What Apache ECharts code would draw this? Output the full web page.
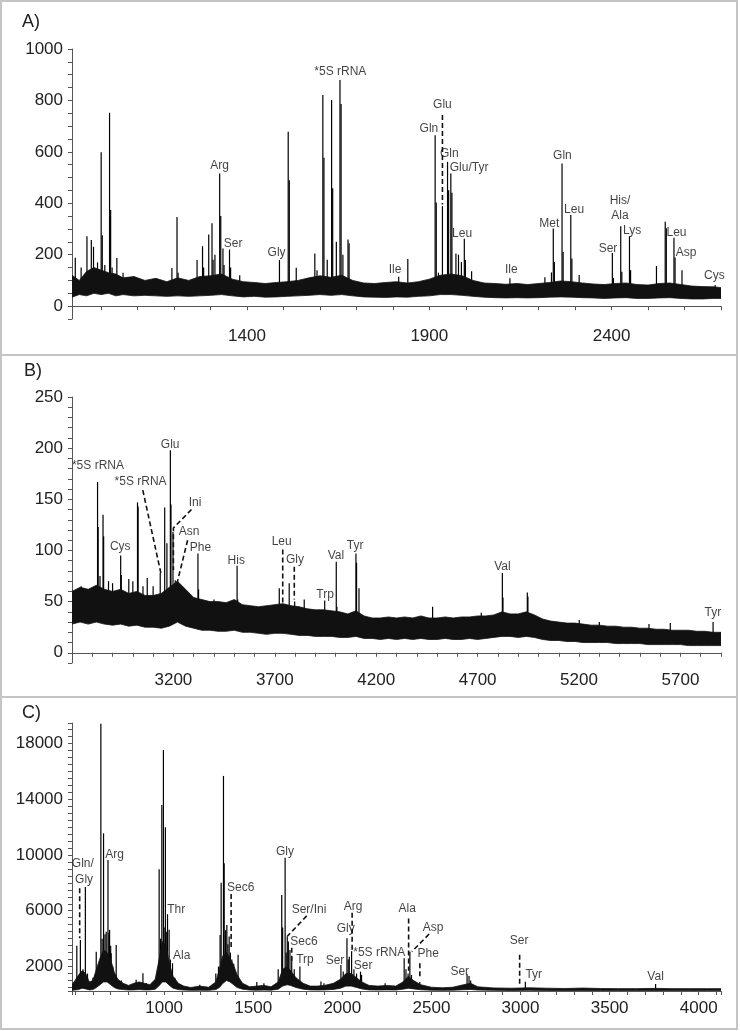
<!DOCTYPE html>
<html><head><meta charset="utf-8">
<script src="https://cdn.jsdelivr.net/npm/echarts@6/dist/echarts.min.js"></script>
<style>html,body{margin:0;padding:0;background:#fff}#c{width:740px;height:1031px}</style>
</head><body><div id="c"></div>
<script>
// ---------- Panel A ----------
const peaksA = [[929,188],[945,150],[961,272],[973,257],[979,231],[990,170],[1000,598],[1003,276],[1010,160],[1023,752],[1026,374],[1030,150],[1043,187],[1060,130],[1194,148],[1208,347],[1211,130],[1263,179],[1278,233],[1281,150],[1295,279],[1304,322],[1307,180],[1312,200],[1325,516],[1328,351],[1334,224],[1337,160],[1352,220],[1355,150],[1380,120],[1489,179],[1513,678],[1516,490],[1535,149],[1586,205],[1592,140],[1608,821],[1611,577],[1620,180],[1632,802],[1635,458],[1645,250],[1655,879],[1658,786],[1663,200],[1677,259],[1680,245],[1816,114],[1841,183],[1916,665],[1919,403],[1925,130],[1936,389],[1950,561],[1953,451],[1959,516],[1962,441],[1973,205],[1980,200],[1988,172],[1996,262],[1999,180],[2016,136],[2121,108],[2217,112],[2235,131],[2240,302],[2243,172],[2264,555],[2267,211],[2288,354],[2291,185],[2311,121],[2402,207],[2405,110],[2425,311],[2428,134],[2449,272],[2452,140],[2523,156],[2547,328],[2550,303],[2571,266],[2574,189],[2593,140],[2684,82]];
const envA = [[920,35,120],[940,45,100],[960,40,135],[980,50,150],[1000,45,140],[1020,50,130],[1040,40,125],[1060,45,110],[1090,40,115],[1120,42,100],[1150,40,108],[1180,38,95],[1210,40,110],[1240,38,100],[1270,40,115],[1300,42,118],[1330,45,125],[1360,40,105],[1390,36,95],[1420,38,92],[1450,35,88],[1480,36,92],[1510,38,95],[1540,40,100],[1570,42,110],[1600,45,118],[1630,42,112],[1660,45,120],[1690,40,100],[1720,36,90],[1750,35,88],[1780,34,92],[1810,36,95],[1840,35,90],[1870,38,95],[1900,40,105],[1930,45,120],[1960,45,125],[1990,42,118],[2020,38,100],[2050,35,90],[2080,33,88],[2110,32,85],[2140,33,88],[2170,32,84],[2200,33,88],[2230,35,92],[2260,36,98],[2290,35,95],[2320,33,90],[2350,32,86],[2380,30,84],[2410,32,88],[2440,33,90],[2470,30,84],[2500,30,82],[2530,32,88],[2560,33,90],[2590,30,84],[2620,28,78],[2650,28,76],[2680,30,75],[2700,30,72]];
const labelsA = [[1656,912,'*5S rRNA'],[1325,546,'Arg'],[1362,242,'Ser'],[1481,209,'Gly'],[1806,143,'Ile'],[1936,782,'Glu'],[1899,689,'Gln'],[1955,594,'Gln'],[2009,538,'Glu/Tyr'],[1990,283,'Leu'],[2125,143,'Ile'],[2229,322,'Met'],[2265,585,'Gln'],[2297,377,'Leu'],[2423,409,'His/'],[2423,350,'Ala'],[2456,293,'Lys'],[2390,224,'Ser'],[2578,285,'Leu'],[2604,209,'Asp'],[2682,118,'Cys']];
const leadersA = [[[1936,743],[1936,395]]];

// ---------- Panel B ----------
const peaksB = [[2720,58],[2745,65],[2760,60],[2790,62],[2826,167],[2829,123],[2838,75],[2853,135],[2856,114],[2880,70],[2900,68],[2940,95],[2943,76],[2980,72],[3000,70],[3023,147],[3026,143],[3050,65],[3071,73],[3100,65],[3135,78],[3157,142],[3168,107],[3185,198],[3188,145],[3198,118],[3209,71],[3215,68],[3230,62],[3321,97],[3324,62],[3400,52],[3514,85],[3517,52],[3600,45],[3722,63],[3771,68],[3798,50],[3845,52],[3946,51],[4003,89],[4006,45],[4100,97],[4103,88],[4115,63],[4478,45],[4718,39],[4822,78],[4825,54],[4945,59],[4948,55],[5201,32],[5300,30],[5545,28],[5650,29],[5861,30]];
const envB = [[2700,28,60],[2740,30,64],[2780,28,62],[2820,30,66],[2860,28,62],[2900,27,60],[2940,28,62],[2980,26,58],[3020,27,60],[3060,25,56],[3100,25,56],[3140,24,58],[3180,26,64],[3220,30,70],[3260,26,62],[3300,24,54],[3340,22,52],[3380,22,50],[3420,21,50],[3460,21,49],[3500,22,52],[3540,20,47],[3580,20,46],[3620,19,45],[3660,18,46],[3700,19,47],[3740,19,48],[3780,18,46],[3820,17,45],[3860,17,43],[3900,16,42],[3940,16,42],[3980,16,41],[4020,15,40],[4060,15,38],[4100,16,41],[4140,14,36],[4180,14,34],[4220,13,34],[4260,14,35],[4300,13,34],[4340,14,35],[4380,13,34],[4420,14,36],[4460,13,34],[4500,13,34],[4540,14,35],[4580,13,34],[4620,13,35],[4660,14,35],[4700,13,36],[4740,14,36],[4780,15,37],[4820,16,40],[4860,16,38],[4900,15,38],[4940,16,40],[4980,15,37],[5020,13,33],[5060,12,31],[5100,12,30],[5140,11,29],[5180,11,29],[5220,10,28],[5260,10,27],[5300,10,27],[5340,10,26],[5380,9,26],[5420,9,25],[5460,9,25],[5500,9,24],[5540,8,24],[5580,8,23],[5620,8,23],[5660,8,22],[5700,8,22],[5740,7,22],[5780,7,21],[5820,7,21],[5860,7,20],[5900,7,20]];
const labelsB = [[2828,183,'*5S rRNA'],[3038,167,'*5S rRNA'],[3184,203,'Glu'],[2938,104,'Cys'],[3307,147,'Ini'],[3277,118,'Asn'],[3333,103,'Phe'],[3510,90,'His'],[3734,109,'Leu'],[3799,91,'Gly'],[3948,57,'Trp'],[4001,95,'Val'],[4096,105,'Tyr'],[4822,84,'Val'],[5860,39,'Tyr']];
const leadersB = [[[3049,159],[3138,78]],[[3289,140],[3200,122],[3200,81]],[[3270,110],[3218,68]],[[3739,101],[3739,42]],[[3796,84],[3796,52]]];

// ---------- Panel C ----------
const peaksC = [[496,830],[510,3500],[530,3900],[545,1800],[558,7700],[570,1500],[600,1200],[619,3070],[632,2120],[645,19400],[652,4000],[660,11550],[668,4320],[675,4500],[685,9640],[690,4400],[694,4630],[700,3500],[703,2960],[712,2000],[731,3550],[760,1000],[843,1050],[860,900],[881,1520],[900,800],[960,1500],[972,8970],[980,4000],[987,13580],[996,17520],[1000,4800],[1007,11980],[1012,4500],[1019,5750],[1028,4630],[1035,2500],[1047,2240],[1060,1200],[1200,700],[1290,1500],[1305,2000],[1314,4270],[1320,8010],[1333,15660],[1337,9400],[1345,4600],[1352,4980],[1358,3600],[1365,4150],[1372,3000],[1380,2500],[1390,2200],[1415,2840],[1520,900],[1560,800],[1640,1800],[1660,7130],[1665,4800],[1679,9800],[1685,3000],[1691,4150],[1697,3790],[1706,3190],[1716,2710],[1730,1800],[1762,2000],[1880,925],[1897,810],[1992,2120],[2005,1640],[2026,4030],[2033,2500],[2039,2710],[2052,3100],[2065,1800],[2080,1500],[2102,1640],[2108,1400],[2240,800],[2347,2600],[2357,1800],[2369,1500],[2379,3070],[2388,1400],[2435,900],[2700,1450],[2711,1330],[2720,1000],[3027,920],[3758,760]];
const envC = [[483,300,700],[500,320,1000],[520,350,1400],[540,450,1700],[560,400,1500],[580,330,900],[600,350,1000],[620,500,1800],[640,700,2600],[660,900,3200],[680,900,3000],[700,700,2500],[720,500,1600],[740,400,1100],[770,350,800],[800,320,650],[830,330,800],[860,350,900],[890,330,800],[920,330,700],[950,380,1100],[970,600,2400],[990,900,3800],[1010,900,3500],[1030,650,2200],[1050,450,1300],[1080,350,800],[1110,320,600],[1150,300,500],[1200,310,600],[1250,300,520],[1290,350,900],[1310,500,1800],[1330,800,2800],[1350,1000,3000],[1370,900,2600],[1390,700,2100],[1410,500,1400],[1440,380,800],[1480,320,550],[1520,310,600],[1560,320,650],[1600,310,550],[1640,380,900],[1665,600,1800],[1690,700,2000],[1710,650,1700],[1740,500,1200],[1780,380,800],[1820,330,600],[1860,320,600],[1900,330,650],[1950,360,800],[1990,450,1100],[2020,600,1500],[2050,600,1500],[2080,500,1200],[2110,400,900],[2150,330,650],[2200,320,600],[2250,330,650],[2300,320,600],[2340,380,900],[2370,450,1300],[2400,400,1000],[2440,340,700],[2500,310,520],[2560,300,480],[2620,310,520],[2680,340,700],[2720,360,800],[2760,320,550],[2850,300,470],[2950,290,450],[3050,300,480],[3150,290,450],[3250,285,430],[3350,290,460],[3450,285,430],[3550,280,420],[3650,280,420],[3750,285,440],[3850,280,420],[3950,280,420],[4050,280,420],[4125,280,420]];
const labelsC = [[544,9400,'Gln/'],[551,8260,'Gly'],[722,10000,'Arg'],[1068,6110,'Thr'],[1099,2760,'Ala'],[1430,7660,'Sec6'],[1678,10230,'Gly'],[1813,6060,'Ser/Ini'],[1785,3790,'Sec6'],[1790,2480,'Trp'],[1959,2430,'Ser'],[2061,6300,'Arg'],[2019,4680,'Gly'],[2207,3000,'*5S rRNA'],[2117,2050,'Ser'],[2364,6180,'Ala'],[2510,4820,'Asp'],[2482,2890,'Phe'],[2659,1640,'Ser'],[2992,3840,'Ser'],[3074,1400,'Tyr'],[3758,1240,'Val']];
const leadersC = [[[526,7610],[526,4030]],[[1376,7200],[1376,3340]],[[1800,5630],[1690,4150]],[[1716,3350],[1716,2200]],[[2055,5850],[2055,3200]],[[2372,5450],[2372,1700]],[[2487,4330],[2390,3070]],[[2435,2240],[2435,1170]],[[2995,2840],[2995,620]]];

const FONT = '"Liberation Sans", Arial, sans-serif';
const panels = [
  {peaks:peaksA, env:envA, labels:labelsA, leaders:leadersA, top:49, bottom:712,
   xmin:920, xmax:2700, xstep:100, xlab:v=>(v>=1400 && (v-1400)%500===0),
   ymin:-50, ymax:1000, ystep:50, ylab:v=>(v>=0 && v%200===0), yFixed:true},
  {peaks:peaksB, env:envB, labels:labelsB, leaders:leadersB, top:397, bottom:368,
   xmin:2700, xmax:5900, xstep:100, xlab:v=>(v>=3200 && (v-3200)%500===0),
   ymin:-10, ymax:250, ystep:10, ylab:v=>(v>=0 && v%50===0), yFixed:true},
  {peaks:peaksC, env:envC, labels:labelsC, leaders:leadersC, top:723, bottom:40,
   xmin:483, xmax:4125, xstep:100, xlab:v=>(v>=1000 && v%500===0),
   ymin:250, ymax:19450, ystep:500, ylab:v=>(v>=2000 && (v-2000)%4000===0), yFixed:false}
];

// baseline (middle of the noise band) at the envelope sample nearest to x
function bandMid(env, x){
  let best = env[0];
  for (const e of env) if (Math.abs(e[0]-x) < Math.abs(best[0]-x)) best = e;
  return (best[1]+best[2])/2;
}

const grid=[], xAxis=[], yAxis=[], series=[];
const axisCol = '#555';
panels.forEach((p,i)=>{
  grid.push({left:72, right:19, top:p.top, bottom:p.bottom, containLabel:false, outerBoundsMode:'none'});
  xAxis.push({gridIndex:i, type:'value', min:p.xmin, max:p.xmax, minInterval:p.xstep, maxInterval:p.xstep,
    splitLine:{show:false}, axisLine:{lineStyle:{color:axisCol,width:1}},
    axisTick:{length:4, lineStyle:{color:axisCol}},
    axisLabel:{fontSize:17, color:'#222', fontFamily:FONT, margin:9, showMinLabel:true, showMaxLabel:true,
      formatter:v=>{const r=Math.round(v); return p.xlab(r)?String(r):'';}}});
  const ya = {gridIndex:i, type:'value', min:p.ymin, max:p.ymax,
    splitLine:{show:false}, axisLine:{show:true, lineStyle:{color:axisCol,width:1}},
    axisTick:{show:true, length:4, lineStyle:{color:axisCol}},
    axisLabel:{fontSize:17, color:'#222', fontFamily:FONT, margin:9,
      formatter:v=>{const r=Math.round(v); return p.ylab(r)?String(r):'';}}};
  if (p.yFixed) ya.interval = p.ystep; else {ya.minInterval=p.ystep; ya.maxInterval=p.ystep;}
  yAxis.push(ya);
  const env = p.env;
  // peaks: vertical strokes rising out of the noise band
  series.push({type:'custom', xAxisIndex:i, yAxisIndex:i, silent:true, clip:true, z:2,
    data:p.peaks, encode:{x:0, y:1},
    renderItem:(params, api)=>{
      const x = api.value(0), h = api.value(1);
      const top = api.coord([x, h]);
      const bot = api.coord([x, bandMid(env, x)]);
      return {type:'rect', shape:{x:top[0]-0.6, y:top[1], width:1.2, height:Math.max(0, bot[1]-top[1])},
        style:{fill:'#000'}};
    }});
  // noise band drawn as one polygon (upper edge forward, lower edge back)
  series.push({type:'custom', xAxisIndex:i, yAxisIndex:i, silent:true, clip:true, z:3,
    data:env, encode:{x:0, y:[1,2]},
    renderItem:(params, api)=>{
      if (params.dataIndex !== 0) return null;
      const pts = [];
      for (let k=0;k<env.length;k++) pts.push(api.coord([env[k][0], env[k][2]]));
      for (let k=env.length-1;k>=0;k--) pts.push(api.coord([env[k][0], env[k][1]]));
      return {type:'polygon', shape:{points:pts}, style:{fill:'#111', stroke:'#111', lineWidth:0.8, lineJoin:'round'}};
    }});
  p.leaders.forEach(seg=>{
    series.push({type:'line', xAxisIndex:i, yAxisIndex:i, data:seg, symbol:'none', silent:true,
      lineStyle:{type:[5,3], width:1.6, color:'#111'}, z:4});
  });
  series.push({type:'scatter', xAxisIndex:i, yAxisIndex:i, silent:true, symbolSize:1,
    itemStyle:{color:'rgba(0,0,0,0)'},
    data:p.labels.map(l=>({value:[l[0],l[1]], name:l[2]})),
    label:{show:true, position:'inside', formatter:'{b}', fontSize:12, color:'#111', fontFamily:FONT}, z:5});
});

const chart = echarts.init(document.getElementById('c'), null, {renderer:'canvas'});
chart.setOption({
  animation:false, backgroundColor:'#fff',
  grid, xAxis, yAxis, series,
  graphic:[
    {type:'rect', shape:{x:1,y:1,width:736,height:354}, style:{fill:'none', stroke:'#c4c4c4', lineWidth:2}, silent:true},
    {type:'rect', shape:{x:1,y:355,width:736,height:342}, style:{fill:'none', stroke:'#c4c4c4', lineWidth:2}, silent:true},
    {type:'rect', shape:{x:1,y:697,width:736,height:332}, style:{fill:'none', stroke:'#c4c4c4', lineWidth:2}, silent:true},
    {type:'text', left:22, top:13, style:{text:'A)', font:'18px '+FONT, fill:'#222'}, silent:true},
    {type:'text', left:24, top:362, style:{text:'B)', font:'18px '+FONT, fill:'#222'}, silent:true},
    {type:'text', left:22, top:704, style:{text:'C)', font:'18px '+FONT, fill:'#222'}, silent:true}
  ]
});
</script></body></html>
